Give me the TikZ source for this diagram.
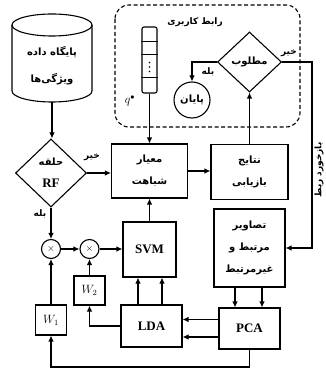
\documentclass[tikz,border=0pt]{standalone}
\usepackage{fontspec}
\setmainfont{Liberation Serif}
\newfontfamily\farsifont[Script=Arabic]{DejaVu Sans}
\TeXXeTstate=1
\newcommand{\pers}[1]{{\farsifont\bfseries\beginR #1\endR}}
\newcommand{\lat}[1]{{\fontsize{13}{15}\selectfont\bfseries #1}}
\usetikzlibrary{shapes.geometric,arrows.meta}

\begin{document}
\begin{tikzpicture}[x=1pt,y=-1pt,line width=1.1pt,>={Latex[length=6pt,width=5.5pt]},
    txt/.style={inner sep=0pt,align=center,font=\fontsize{10}{22}\selectfont},
    blk/.style={draw,rectangle,txt},
    dia/.style={draw,diamond,txt},
    latin/.style={font=\fontsize{13}{15}\selectfont\bfseries},
    mult/.style={draw,circle,inner sep=0pt,minimum size=19pt},
    lbl/.style={inner sep=1pt,font=\fontsize{9}{10}\selectfont}]
    \useasboundingbox (0,0) rectangle (325,371);

    \draw[dashed,dash pattern=on 4pt off 2.5pt,rounded corners=14pt] (115,5) rectangle (300,127);
    \node[lbl] (ui) at (195,22) {\pers{رابط کاربری}};

    % database cylinder
    \draw (12,25) -- (12,91) arc[start angle=180,end angle=360,x radius=40pt,y radius=11pt] -- (92,25);
    \draw (52,25) ellipse[x radius=40pt,y radius=11pt];
    \coordinate (dbbase) at (52,102);
    \node[txt] (db) at (52,66) {\pers{پایگاه داده}\\[5pt]\pers{ویژگی‌ها}};

    \node[dia,minimum width=71pt,minimum height=68pt] (rf) at (51,173) {\pers{حلقه}\\\lat{RF}};
    \node[blk,minimum width=76pt,minimum height=54pt] (sim) at (149.5,171) {\pers{معیار}\\\pers{شباهت}};
    \node[blk,minimum width=77pt,minimum height=55pt] (res) at (249.5,172) {\pers{نتایج}\\\pers{بازیابی}};
    \node[dia,minimum width=64pt,minimum height=60pt] (goal) at (249.5,62) {\pers{مطلوب}};
    \node[draw,circle,txt,minimum size=36pt] (finish) at (192,100) {\pers{پایان}};

    % query vector
    \node[draw,rounded corners=2pt,minimum width=15pt,minimum height=66pt,inner sep=0pt] (query) at (149.5,60) {};
    \foreach \d in {15,28,51}
        \draw ([yshift=-\d pt]query.north west) -- ([yshift=-\d pt]query.north east);
    \foreach \y in {62.5,67,71.5}
        \fill (149.5,\y) circle (0.8pt);
    \node[inner sep=0pt,font=\fontsize{12}{14}\selectfont] (qlabel) at (130,101) {$q^{\bullet}$};

    \node[blk,minimum width=71pt,minimum height=78pt] (imgs) at (249.5,248) {\pers{تصاویر}\\\pers{مرتبط و}\\\pers{غیرمرتبط}};
    \node[draw,latin,minimum width=61pt,minimum height=41pt] (pca) at (249.5,328.5) {PCA};
    \node[draw,latin,minimum width=61pt,minimum height=42pt] (lda) at (151.5,326) {LDA};
    \node[draw,latin,minimum width=53pt,minimum height=55pt] (svm) at (149.5,249.5) {SVM};
    \node[mult] (m1) at (51,249) {$\times$};
    \node[mult] (m2) at (89.5,249) {$\times$};
    \node[draw,minimum width=31pt,minimum height=29pt,inner sep=0pt,font=\fontsize{12}{14}\selectfont] (w2) at (89.5,290.5) {$W_2$};
    \node[draw,minimum width=31pt,minimum height=30pt,inner sep=0pt,font=\fontsize{12}{14}\selectfont] (w1) at (51,320) {$W_1$};

    \coordinate (fb) at (312,150);
    \coordinate (bottom) at (249.5,367);

    \draw[->] (dbbase) -- (dbbase |- rf.north);
    \draw[->] (rf.east) -- (rf.east -| sim.west);
    \node[lbl] (rfno) at (92,157) {\pers{خیر}};
    \draw[->] (rf.south) -- (m1.north);
    \node[lbl] (rfyes) at (40,214) {\pers{بله}};
    \draw[->] (m1.east) -- (m2.west);
    \draw[->] (m2.east) -- (m2.east -| svm.west);
    \draw[->] (w1.north) -- (m1.south);
    \draw[->] (w2.north) -- (m2.south);
    \draw[->] (lda.west) -| (w2.south);
    \draw[->] (pca.south) -- (bottom) -| (w1.south);
    \foreach \s in {9,-8.5}
        \draw[->] ([yshift=\s pt]pca.west) -- ([yshift=\s pt]pca.west -| lda.east);
    \foreach \s in {-13.5,10.5}
        \draw[->] ([xshift=\s pt]lda.north) -- ([xshift=\s pt]lda.north |- svm.south);
    \draw[->] (svm.north) -- (sim.south);
    \foreach \s in {-14.5,12.5}
        \draw[->] ([xshift=\s pt]imgs.south) -- ([xshift=\s pt]imgs.south |- pca.north);
    \draw[->] (sim.east) -- (sim.east -| res.west);
    \draw[->] (res.north) -- (goal.south);
    \draw[->] (query.south) -- (sim.north);
    \draw[->] (goal.west) -| (finish.north);
    \node[lbl] (goalyes) at (208,72) {\pers{بله}};
    \draw[->] (goal.east) -| (fb) |- (imgs.east);
    \node[lbl] (goalno) at (289,53) {\pers{خیر}};
    \node[lbl,rotate=90] (fblabel) at (319,170) {\pers{بازخورد ربط}};
\end{tikzpicture}
\end{document}
